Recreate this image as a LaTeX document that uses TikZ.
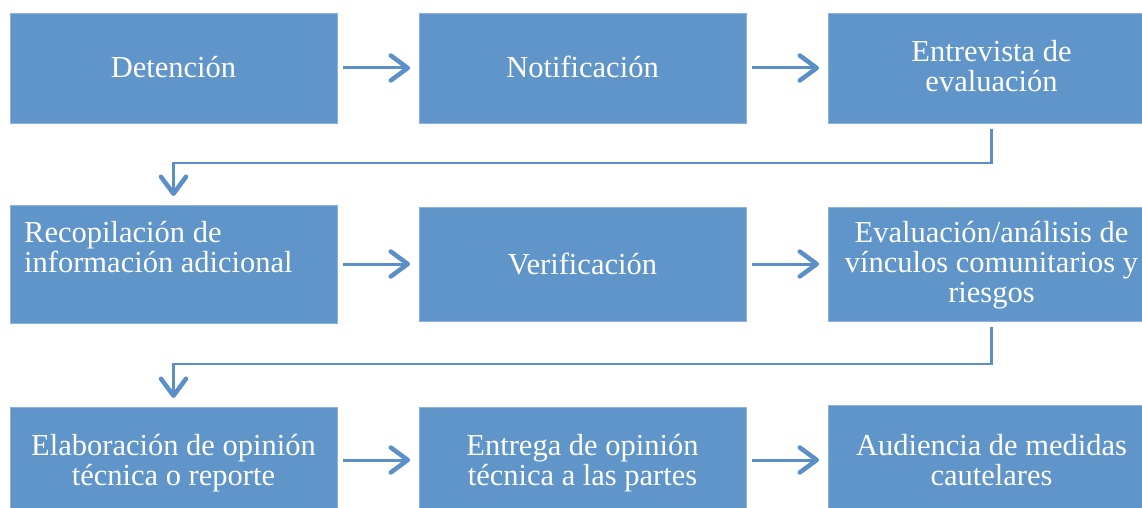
\documentclass[tikz,border=0pt]{standalone}
\usepackage{fontspec}
\setmainfont{Liberation Serif}
\usetikzlibrary{arrows.meta}
\definecolor{boxblue}{HTML}{6095C9}
\definecolor{boxedge}{HTML}{8DB3DC}
\definecolor{arrblue}{HTML}{5B8FC8}
\tikzset{
  boxfont/.style={font=\fontsize{30.5}{30}\selectfont},
  stepbox/.style={draw=boxedge, line width=0.8pt, fill=boxblue, minimum width=327pt,
    inner sep=0pt, outer sep=0pt, text=white, align=center, boxfont},
  boxtext/.style={text=white, inner sep=0pt, boxfont},
  tipstyle/.style={-{Straight Barb[length=17pt, width=25pt, line width=4.5pt, line cap=round, round]}},
  flow/.style={draw=arrblue, line width=3pt, tipstyle},
  elbow/.style={draw=arrblue, line width=2.6pt, tipstyle}
}
\begin{document}
\begin{tikzpicture}[x=1pt,y=-1pt]
\useasboundingbox (0,0) rectangle (1142,508);
% row 1
\node[stepbox, minimum height=110pt] (b1) at (173.5,68) {};
\node[boxtext, anchor=base] (t1) at (173.5,78) {Detención};
\node[stepbox, minimum height=110pt] (b2) at (582.5,68) {};
\node[boxtext, anchor=base] (t2) at (582.5,78) {Notificación};
\node[stepbox, minimum height=110pt] (b3) at (991.5,68) {};
\node[boxtext, align=center, anchor=base] (t3) at (991.5,92) {Entrevista de\\evaluación};
% row 2
\node[stepbox, minimum height=118pt] (b4) at (173.5,264) {};
\node[boxtext, align=left, anchor=base west] (t4) at (24,272) {Recopilación de\\información adicional};
\node[stepbox, minimum height=114pt] (b5) at (582.5,264) {};
\node[boxtext, anchor=base] (t5) at (582.5,274) {Verificación};
\node[stepbox, minimum height=114pt] (b6) at (991.5,264) {};
\node[boxtext, align=center, anchor=base] (t6) at (991.5,302) {Evaluación/análisis de\\vínculos comunitarios y\\riesgos};
% row 3
\node[stepbox, minimum height=118pt, anchor=north] (b7) at (173.5,407) {};
\node[boxtext, align=center, anchor=base] (t7) at (173.5,485) {Elaboración de opinión\\técnica o reporte};
\node[stepbox, minimum height=118pt, anchor=north] (b8) at (582.5,407) {};
\node[boxtext, align=center, anchor=base] (t8) at (582.5,485) {Entrega de opinión\\técnica a las partes};
\node[stepbox, minimum height=120pt, anchor=north] (b9) at (991.5,405) {};
\node[boxtext, align=center, anchor=base] (t9) at (991.5,485) {Audiencia de medidas\\cautelares};
% arrows
\draw[flow] ([xshift=6pt]b1.east |- 0,68) -- ([xshift=-9pt]b2.west |- 0,68);
\draw[flow] ([xshift=6pt]b2.east |- 0,68) -- ([xshift=-9pt]b3.west |- 0,68);
\draw[flow] ([xshift=6pt]b4.east |- 0,264) -- ([xshift=-9pt]b5.west |- 0,264);
\draw[flow] ([xshift=6pt]b5.east |- 0,264) -- ([xshift=-9pt]b6.west |- 0,264);
\draw[flow] ([xshift=6pt]b7.east |- 0,460) -- ([xshift=-9pt]b8.west |- 0,460);
\draw[flow] ([xshift=6pt]b8.east |- 0,460) -- ([xshift=-9pt]b9.west |- 0,460);
\draw[elbow] ([yshift=-6pt]b3.south) -- ++(0,34) -| ([yshift=9pt]b4.north);
\draw[elbow] ([yshift=-6pt]b6.south) -- ++(0,37) -| ([yshift=9pt]b7.north);
\end{tikzpicture}
\end{document}
